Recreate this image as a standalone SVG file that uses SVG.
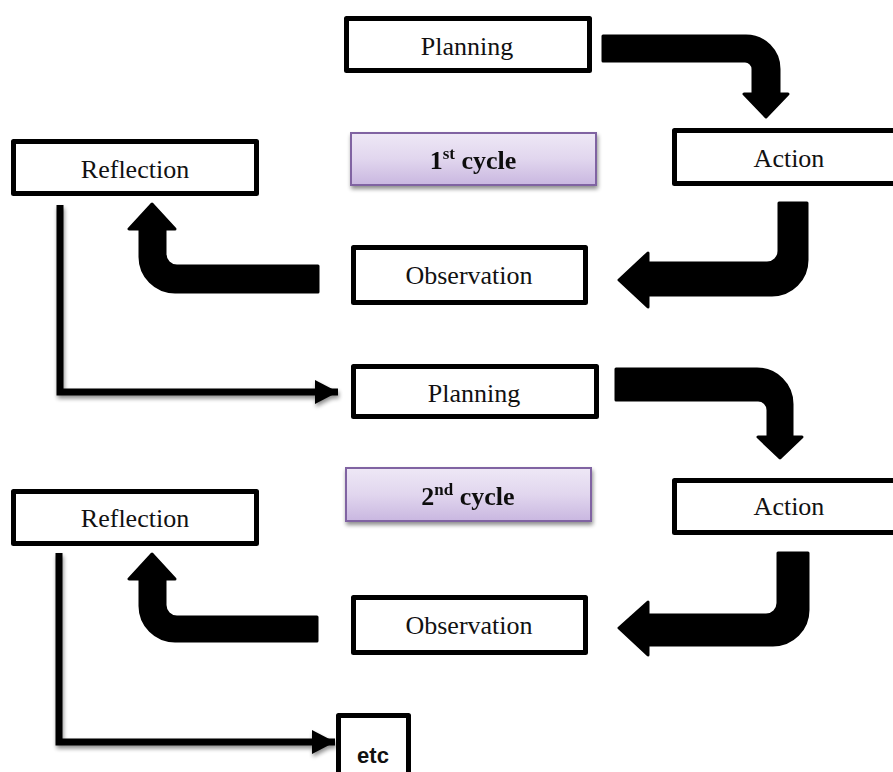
<svg xmlns="http://www.w3.org/2000/svg" width="893" height="772" viewBox="0 0 893 772">
<style>
.box{fill:#fff;stroke:#000;stroke-width:5;stroke-linejoin:round}
.lbl{font-family:"Liberation Serif","Times New Roman",serif;font-size:26px;fill:#111;text-anchor:middle}
.cyc{fill:url(#purp);stroke:#8064A2;stroke-width:2}
.ctext{font-family:"Liberation Serif","Times New Roman",serif;font-size:26px;font-weight:bold;fill:#111;text-anchor:middle}
.big{fill:#000;stroke:#000;stroke-width:3;stroke-linejoin:round}
.thin{fill:none;stroke:#000;stroke-width:7;stroke-linejoin:miter}
</style>
<defs>
<linearGradient id="purp" x1="0" y1="0" x2="0" y2="1">
<stop offset="0" stop-color="#EEE8F6"/>
<stop offset="0.5" stop-color="#E1D6EE"/>
<stop offset="1" stop-color="#C9B7E0"/>
</linearGradient>
<filter id="sh" x="-20%" y="-20%" width="140%" height="160%">
<feGaussianBlur in="SourceAlpha" stdDeviation="2"/>
<feOffset dx="1" dy="3" result="b"/>
<feComponentTransfer><feFuncA type="linear" slope="0.45"/></feComponentTransfer>
<feMerge><feMergeNode/><feMergeNode in="SourceGraphic"/></feMerge>
</filter>
<marker id="ah" markerWidth="24" markerHeight="26" refX="23" refY="12" orient="auto" markerUnits="userSpaceOnUse">
<path d="M0,0 L23,12 L0,24 Z" fill="#000"/>
</marker>
</defs>

<g id="connectors">
<path class="big" d="M603,36 H746 A33,33 0 0 1 779,69 V94 H788 L766,117 L744,94 H753 V69 A8,8 0 0 0 745,61 H603 Z"/>
<path class="big" d="M779,203 H807 V260 A35,35 0 0 1 772,295 H648 V307 L619,280 L648,253 V263 H767 A12,12 0 0 0 779,251 Z"/>
<path class="big" d="M318,266 H177 A12,12 0 0 1 165,254 V229 H175 L152,204 L129,229 H140 V257 A35,35 0 0 0 175,292 H318 Z"/>
<path class="thin" filter="url(#sh)" d="M60,205 V392 H338" marker-end="url(#ah)"/>

<path class="big" d="M616,369 H757 A35,35 0 0 1 792,404 V437 H802 L780,458 L758,437 H768 V410 A10,10 0 0 0 758,400 H616 Z"/>
<path class="big" d="M778,553 H808 V610 A35,35 0 0 1 773,645 H648 V655 L619,628 L648,602 V615 H766 A12,12 0 0 0 778,603 Z"/>
<path class="big" d="M317,617 H177 A12,12 0 0 1 165,605 V579 H175 L152,554 L129,579 H140 V606 A35,35 0 0 0 175,641 H317 Z"/>
<path class="thin" filter="url(#sh)" d="M59,553 V742 H335" marker-end="url(#ah)"/>
</g>

<g id="planning1"><rect class="box" x="346.5" y="18.5" width="243" height="52"/><text class="lbl" x="467" y="55">Planning</text></g>
<g id="action1"><rect class="box" x="674.5" y="130.5" width="240" height="53"/><text class="lbl" x="789" y="167">Action</text></g>
<g id="observation1"><rect class="box" x="353.5" y="247.5" width="232" height="55"/><text class="lbl" x="469" y="284">Observation</text></g>
<g id="reflection1"><rect class="box" x="13.5" y="141.5" width="243" height="52"/><text class="lbl" x="135" y="178">Reflection</text></g>
<g id="cycle1" filter="url(#sh)"><rect class="cyc" x="351" y="133" width="245" height="52"/><text class="ctext" x="473" y="169">1<tspan font-size="17" dy="-10">st</tspan><tspan dy="10"> cycle</tspan></text></g>

<g id="planning2"><rect class="box" x="353.5" y="366.5" width="243" height="50"/><text class="lbl" x="474" y="402">Planning</text></g>
<g id="action2"><rect class="box" x="674.5" y="480.5" width="240" height="52"/><text class="lbl" x="789" y="515">Action</text></g>
<g id="observation2"><rect class="box" x="353.5" y="597.5" width="232" height="55"/><text class="lbl" x="469" y="634">Observation</text></g>
<g id="reflection2"><rect class="box" x="13.5" y="491.5" width="243" height="52"/><text class="lbl" x="135" y="527">Reflection</text></g>
<g id="cycle2" filter="url(#sh)"><rect class="cyc" x="346" y="468" width="245" height="53"/><text class="ctext" x="468" y="505">2<tspan font-size="17" dy="-10">nd</tspan><tspan dy="10"> cycle</tspan></text></g>

<g id="etc"><rect class="box" x="338.5" y="715.5" width="70" height="70"/><text x="373" y="763" font-family="'Liberation Sans',Arial,sans-serif" font-weight="bold" font-size="22" fill="#111" text-anchor="middle">etc</text></g>
</svg>
